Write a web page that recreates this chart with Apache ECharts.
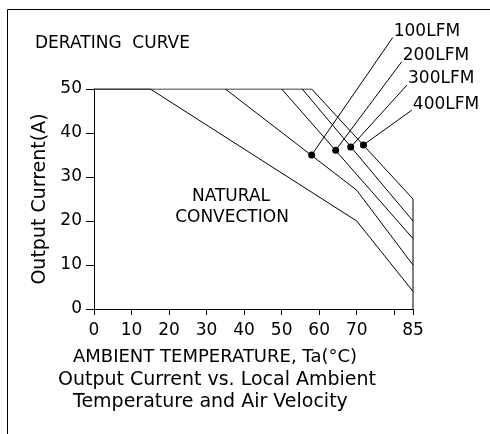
<!DOCTYPE html>
<html>
<head>
<meta charset="utf-8">
<script src="https://cdn.jsdelivr.net/npm/echarts@6/dist/echarts.min.js"></script>
<style>
html,body{margin:0;padding:0;background:#fff;}
#chart{width:490px;height:434px;}
</style>
</head>
<body>
<div id="chart"></div>
<script>
// Derating curves: [ambient temperature °C, output current A]
const naturalConvection = [[0,50],[15,50],[70,20],[85,4]];
const lfm100 = [[35,50],[70,27],[85,10]];
const lfm200 = [[50,50],[85,16]];
const lfm300 = [[55.5,50],[85,20]];
const lfm400 = [[0,50],[58,50],[85,25],[85,0]];

// Leader lines for the air-velocity labels
const leaderNames = ['100LFM','200LFM','300LFM','400LFM'];
const leaderStart = [[58,35],[64.4,36.1],[68.4,36.8],[71.8,37.3]];
const leaderEnd = [[79.6,61.7],[82.0,56.2],[83.4,50.9],[84.7,45.2]];

// Axis ticks / labels
const xTicks = [0,10,20,30,40,50,60,70,80,85];
const xLabels = [0,10,20,30,40,50,60,70,85];

const FONT = 'DejaVu Sans';
const BLACK = '#000';

const chart = echarts.init(document.getElementById('chart'), null, {renderer:'canvas'});

function curve(name, data){
  return {
    name: name, type:'line', data: data, showSymbol:false, symbol:'none',
    lineStyle:{color:BLACK, width:1}, animation:false, silent:true, z:3
  };
}

const leaderSeries = leaderNames.map((n,i)=>({
  name: n, type:'line', clip:false, animation:false, silent:true, z:4,
  lineStyle:{color:BLACK, width:1},
  itemStyle:{color:BLACK},
  symbol:'circle',
  data:[
    {value: leaderStart[i], symbolSize:7},
    {value: leaderEnd[i], symbolSize:0,
     label:{show:true, formatter:n, position:'right', distance:1, offset:[0,-6],
            color:BLACK, fontFamily:FONT, fontSize:17}}
  ]
}));

function txt(size){ return size + 'px "DejaVu Sans"'; }

const option = {
  backgroundColor:'#fff',
  animation:false,
  grid:{left:94, right:77, top:89, bottom:125},
  xAxis:{
    type:'value', min:0, max:85,
    axisLine:{show:true, lineStyle:{color:BLACK, width:1}},
    axisTick:{show:true, length:6, lineStyle:{color:BLACK}, customValues:xTicks},
    axisLabel:{color:BLACK, fontFamily:FONT, fontSize:17, margin:13, customValues:xLabels},
    splitLine:{show:false}
  },
  yAxis:{
    type:'value', min:0, max:50, interval:10,
    name:'Output Current(A)', nameLocation:'middle', nameGap:38, nameRotate:90,
    nameTextStyle:{color:BLACK, fontFamily:FONT, fontSize:19},
    axisLine:{show:true, lineStyle:{color:BLACK, width:1}},
    axisTick:{show:true, length:8, lineStyle:{color:BLACK}},
    axisLabel:{color:BLACK, fontFamily:FONT, fontSize:17, margin:12},
    splitLine:{show:false}
  },
  series:[
    curve('Natural Convection', naturalConvection),
    curve('100LFM curve', lfm100),
    curve('200LFM curve', lfm200),
    curve('300LFM curve', lfm300),
    curve('400LFM curve', lfm400)
  ].concat(leaderSeries),
  graphic:[
    {type:'line', shape:{x1:7.5,y1:9.5,x2:490,y2:9.5}, style:{stroke:BLACK, lineWidth:1}, silent:true},
    {type:'line', shape:{x1:7.5,y1:9.5,x2:7.5,y2:434}, style:{stroke:BLACK, lineWidth:1}, silent:true},
    {type:'text', x:35, y:44, style:{text:'DERATING  CURVE', fill:BLACK, font:txt(17), textVerticalAlign:'middle'}},
    {type:'text', x:231, y:197, style:{text:'NATURAL', fill:BLACK, font:txt(17), textAlign:'center', textVerticalAlign:'middle'}},
    {type:'text', x:232, y:218, style:{text:'CONVECTION', fill:BLACK, font:txt(17), textAlign:'center', textVerticalAlign:'middle'}},
    {type:'text', x:73, y:357, style:{text:'AMBIENT TEMPERATURE, Ta(°C)', fill:BLACK, font:txt(18), textVerticalAlign:'middle'}},
    {type:'text', x:58, y:380, style:{text:'Output Current vs. Local Ambient', fill:BLACK, font:txt(19), textVerticalAlign:'middle'}},
    {type:'text', x:73, y:402, style:{text:'Temperature and Air Velocity', fill:BLACK, font:txt(19), textVerticalAlign:'middle'}}
  ]
};
chart.setOption(option);
</script>
</body>
</html>
